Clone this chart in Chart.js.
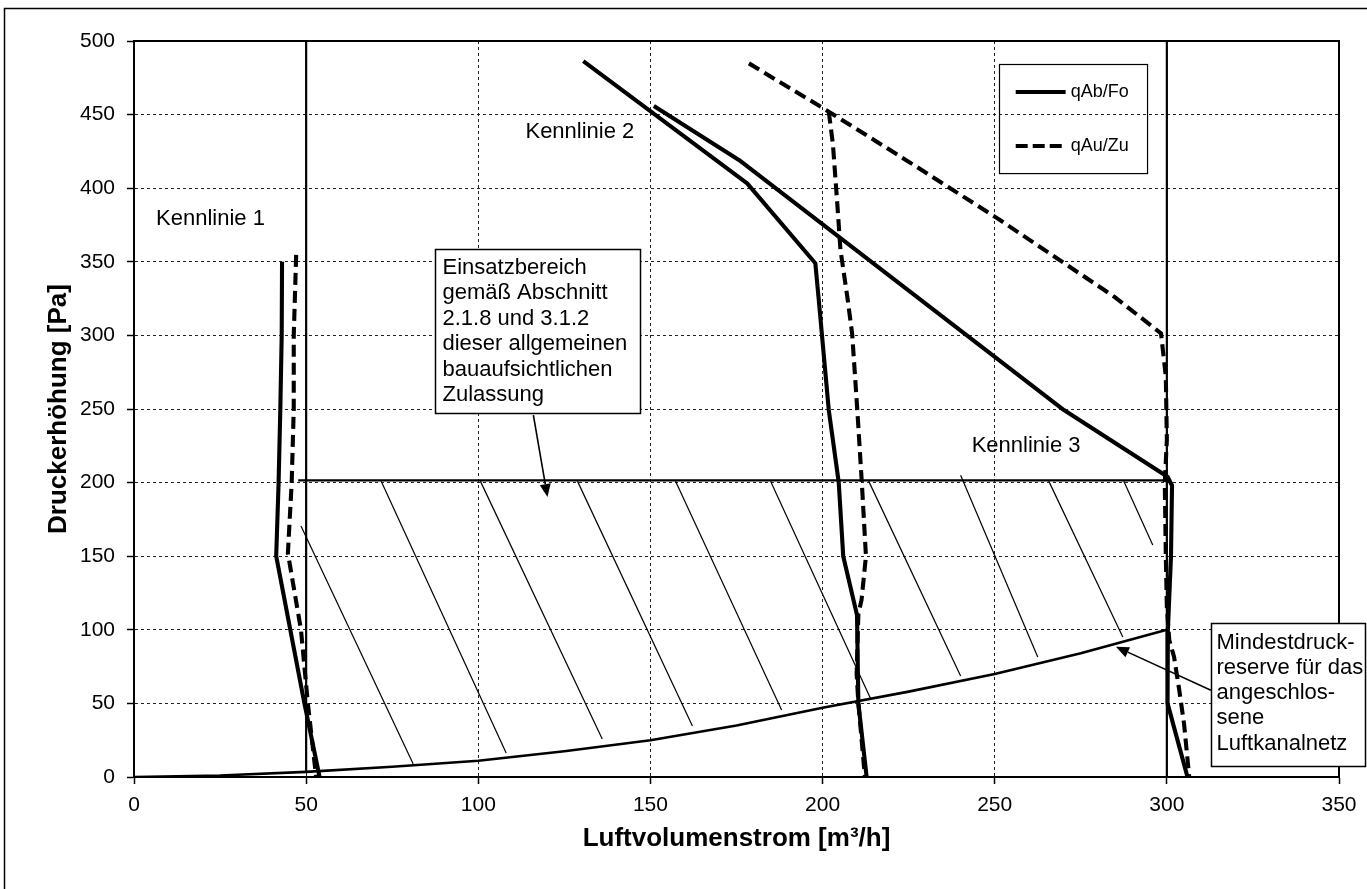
<!DOCTYPE html>
<html><head><meta charset="utf-8">
<script src="https://cdn.jsdelivr.net/npm/chart.js@4.4.1/dist/chart.umd.min.js"></script>
<style>html,body{margin:0;padding:0;background:#fff;}canvas{display:block;}</style>
</head><body>
<canvas id="c" width="1367" height="889"></canvas>
<script>
// ---------- data ----------
const xTicks = [0, 50, 100, 150, 200, 250, 300, 350];
const yTicks = [0, 50, 100, 150, 200, 250, 300, 350, 400, 450, 500];

const seriesNames = ['qAb/Fo', 'qAu/Zu'];

// Kennlinie 1
const k1SolidX = [43.0, 42.9, 42.5, 42.0, 41.3, 49.5, 53.9];
const k1SolidY = [350, 300, 250, 200, 150, 50, 0];
const k1DashX  = [47.1, 46.4, 46.4, 45.8, 44.7, 48.5, 50.5, 52.9];
const k1DashY  = [354.7, 300, 250, 200, 152, 100, 50, 0];

// Kennlinie 2
const k2SolidX = [130.5, 178.1, 197.9, 198.9, 201.8, 204.7, 206.0, 210.0, 210.4, 212.8];
const k2SolidY = [486.4, 403.3, 349, 324, 249.3, 200, 150, 110, 50, 0];
const k2DashX  = [201.8, 203.0, 204.2, 205.2, 207.2, 208.6, 210.1, 211.4, 212.6, 211.3, 210.4, 209.9, 210.4, 212.3];
const k2DashY  = [452, 430, 392, 358, 326, 301, 249, 200, 150, 120, 111, 70, 50, 0];

// Kennlinie 3
const k3SolidX = [151.0, 175.7, 270.1, 300.2, 301.5, 301.2, 300.3, 300.2, 306.0];
const k3SolidY = [455.8, 419.2, 249.3, 204, 198, 150, 100, 50, 0];
const k3DashX  = [178.6, 201.8, 222.7, 250.8, 284.7, 298.3, 299.7, 300.0, 299.4, 299.7, 300.0, 300.7, 302.1, 303.6, 305.0, 306.5];
const k3DashY  = [484.8, 452, 421.4, 379.5, 326.3, 301.4, 272, 229, 200, 150, 115, 93, 81.5, 59, 36, 0];

// Einsatzbereich boundaries
const limitLeftX  = [50, 50];
const limitLeftY  = [3.5, 500];
const limitRightX = [300, 300];
const limitRightY = [0, 500];
const limitTopX   = [47.7, 300];
const limitTopY   = [201.5, 201.5];

// Mindestdruckreserve curve
const reserveX = [0, 25, 50, 75, 100, 125, 150, 175, 200, 225, 250, 275, 300];
const reserveY = [0, 1, 3.5, 7, 11, 17.5, 25, 35, 47, 58, 70, 84, 100];

// Hatch strokes (start / end)
const hatchX1 = [48.5, 71.8, 100.6, 128.8, 157.3, 184.9, 213.4, 240.1, 265.7, 287.5];
const hatchY1 = [170.5, 201, 201, 201, 201, 201, 201, 205, 201, 201];
const hatchX2 = [81.1, 108.1, 136.0, 162.2, 188.1, 214.0, 240.1, 262.5, 287.2, 295.9];
const hatchY2 = [8.8, 16.3, 25.8, 34.6, 45.5, 53, 68.6, 81.5, 95.1, 157.6];

// ---------- chart ----------
const FONT = "'Liberation Sans', Arial, Helvetica, sans-serif";
Chart.defaults.font.family = FONT;
Chart.defaults.color = '#000';

function pts(xs, ys) { return xs.map((x, i) => ({x: x, y: ys[i]})); }
function ds(label, xs, ys, width, dash) {
  return {
    label: label, data: pts(xs, ys), borderColor: '#000', backgroundColor: '#000',
    borderWidth: width, borderDash: dash || [], pointRadius: 0, pointHoverRadius: 0,
    showLine: true, fill: false, tension: 0, borderJoinStyle: 'round', borderCapStyle: 'butt'
  };
}

const DASH = [12, 6];
const W = 4.1;
const datasets = [
  ds(seriesNames[0] + ' K1', k1SolidX, k1SolidY, W),
  ds(seriesNames[1] + ' K1', k1DashX, k1DashY, W, DASH),
  ds(seriesNames[0] + ' K2', k2SolidX, k2SolidY, W),
  ds(seriesNames[1] + ' K2', k2DashX, k2DashY, W, DASH),
  ds(seriesNames[0] + ' K3', k3SolidX, k3SolidY, W),
  ds(seriesNames[1] + ' K3', k3DashX, k3DashY, W, DASH),
  ds('limit left', limitLeftX, limitLeftY, 2.2),
  ds('limit right', limitRightX, limitRightY, 2.2),
  ds('limit top', limitTopX, limitTopY, 2.4),
  ds('reserve', reserveX, reserveY, 2.6)
];
for (let i = 0; i < hatchX1.length; i++) {
  datasets.push(ds('hatch', [hatchX1[i], hatchX2[i]], [hatchY1[i], hatchY2[i]], 1.2));
}

const annotations = {
  labels: [
    {text: 'Kennlinie 1', x: 6.4, y: 379},
    {text: 'Kennlinie 2', x: 113.7, y: 438.2},
    {text: 'Kennlinie 3', x: 243.3, y: 224.9}
  ],
  boxes: [
    {x1: 87.5, x2: 147.1, y1: 358.7, y2: 247.3, pad: 7, first: 18, step: 25.5,
     lines: ['Einsatzbereich', 'gemäß Abschnitt', '2.1.8 und 3.1.2', 'dieser allgemeinen', 'bauaufsichtlichen', 'Zulassung']},
    {x1: 312.8, x2: 357.6, y1: 104.6, y2: 7.5, pad: 5, first: 19, step: 25.3,
     lines: ['Mindestdruck-', 'reserve für das', 'angeschlos-', 'sene', 'Luftkanalnetz']}
  ],
  arrows: [
    {x1: 116.0, y1: 245.9, x2: 120.1, y2: 190.2},
    {x1: 312.8, y1: 59, x2: 285.2, y2: 88.5}
  ],
  legend: {x1: 251.2, x2: 294.2, y1: 484.4, y2: 410.3, lx1: 256.1, lx2: 270.6, tx: 272.1, rows: [465.4, 428.7]}
};

const overlay = {
  id: 'overlay',
  afterDraw(chart) {
    const ctx = chart.ctx, sx = chart.scales.x, sy = chart.scales.y, ca = chart.chartArea;
    const X = v => sx.getPixelForValue(v), Y = v => sy.getPixelForValue(v);
    ctx.save();
    ctx.strokeStyle = '#000';
    ctx.setLineDash([]);
    // outer frame
    ctx.lineWidth = 1.5;
    ctx.strokeRect(4.5, 8.5, 1500, 1000);
    // plot frame
    ctx.lineWidth = 2;
    ctx.strokeRect(ca.left, ca.top, ca.right - ca.left, ca.bottom - ca.top);

    // legend
    const L = annotations.legend;
    ctx.lineWidth = 1.2;
    ctx.strokeRect(Math.round(X(L.x1)) + 0.5, Math.round(Y(L.y1)) + 0.5, X(L.x2) - X(L.x1), Y(L.y2) - Y(L.y1));
    ctx.font = '18px ' + FONT;
    ctx.fillStyle = '#000';
    ctx.textBaseline = 'middle';
    ctx.textAlign = 'left';
    for (let i = 0; i < L.rows.length; i++) {
      ctx.lineWidth = 4;
      ctx.setLineDash(i === 0 ? [] : [12, 5]);
      ctx.beginPath();
      ctx.moveTo(X(L.lx1), Y(L.rows[i]));
      ctx.lineTo(X(L.lx2), Y(L.rows[i]));
      ctx.stroke();
      ctx.fillText(seriesNames[i], X(L.tx), Y(L.rows[i]));
    }
    ctx.setLineDash([]);

    // Kennlinie labels
    ctx.font = '22px ' + FONT;
    annotations.labels.forEach(l => ctx.fillText(l.text, X(l.x), Y(l.y)));

    // boxes
    annotations.boxes.forEach(b => {
      const l = Math.round(X(b.x1)) + 0.5, t = Math.round(Y(b.y1)) + 0.5;
      const w = Math.round(X(b.x2) - X(b.x1)), h = Math.round(Y(b.y2) - Y(b.y1));
      ctx.fillStyle = '#fff';
      ctx.fillRect(l, t, w, h);
      ctx.lineWidth = 1.5;
      ctx.strokeStyle = '#000';
      ctx.strokeRect(l, t, w, h);
      ctx.fillStyle = '#000';
      b.lines.forEach((s, i) => ctx.fillText(s, l + b.pad, t + b.first + i * b.step));
    });

    // arrows
    annotations.arrows.forEach(a => {
      const x1 = X(a.x1), y1 = Y(a.y1), x2 = X(a.x2), y2 = Y(a.y2);
      const ang = Math.atan2(y2 - y1, x2 - x1);
      const len = 13, hw = 5.5;
      const bx = x2 - len * Math.cos(ang), by = y2 - len * Math.sin(ang);
      ctx.lineWidth = 1.6;
      ctx.beginPath(); ctx.moveTo(x1, y1); ctx.lineTo(bx, by); ctx.stroke();
      ctx.beginPath();
      ctx.moveTo(x2, y2);
      ctx.lineTo(bx + hw * Math.sin(ang), by - hw * Math.cos(ang));
      ctx.lineTo(bx - hw * Math.sin(ang), by + hw * Math.cos(ang));
      ctx.closePath();
      ctx.fill();
    });
    ctx.restore();
  }
};

new Chart(document.getElementById('c'), {
  type: 'scatter',
  data: {datasets: datasets},
  options: {
    responsive: false,
    devicePixelRatio: 1,
    animation: false,
    events: [],
    layout: {padding: {left: 0, top: 41, right: 28, bottom: 0}},
    plugins: {legend: {display: false}, tooltip: {enabled: false}},
    scales: {
      x: {
        type: 'linear', min: xTicks[0], max: xTicks[xTicks.length - 1],
        afterBuildTicks: s => { s.ticks = xTicks.map(v => ({value: v})); },
        afterFit: s => { s.height = 112; },
        ticks: {font: {size: 21}, color: '#000', padding: 9, maxRotation: 0},
        grid: {color: '#222', lineWidth: 1, tickLength: 7, tickColor: '#000', tickWidth: 1.5, tickBorderDash: []},
        border: {display: true, color: '#000', width: 2, dash: [3, 3]},
        title: {display: true, text: 'Luftvolumenstrom [m³/h]', font: {size: 26, weight: 'bold'}, color: '#000', padding: {top: 0, bottom: 35}}
      },
      y: {
        type: 'linear', min: yTicks[0], max: yTicks[yTicks.length - 1],
        afterBuildTicks: s => { s.ticks = yTicks.map(v => ({value: v})); },
        afterFit: s => { s.width = 134; },
        ticks: {font: {size: 21}, color: '#000', padding: 12},
        grid: {color: '#222', lineWidth: 1, tickLength: 7, tickColor: '#000', tickWidth: 1.5, tickBorderDash: []},
        border: {display: true, color: '#000', width: 2, dash: [3, 3]},
        title: {display: true, text: 'Druckerhöhung [Pa]', font: {size: 26, weight: 'bold'}, color: '#000', padding: {top: 43, bottom: 0}}
      }
    }
  },
  plugins: [overlay]
});
</script>
</body></html>
